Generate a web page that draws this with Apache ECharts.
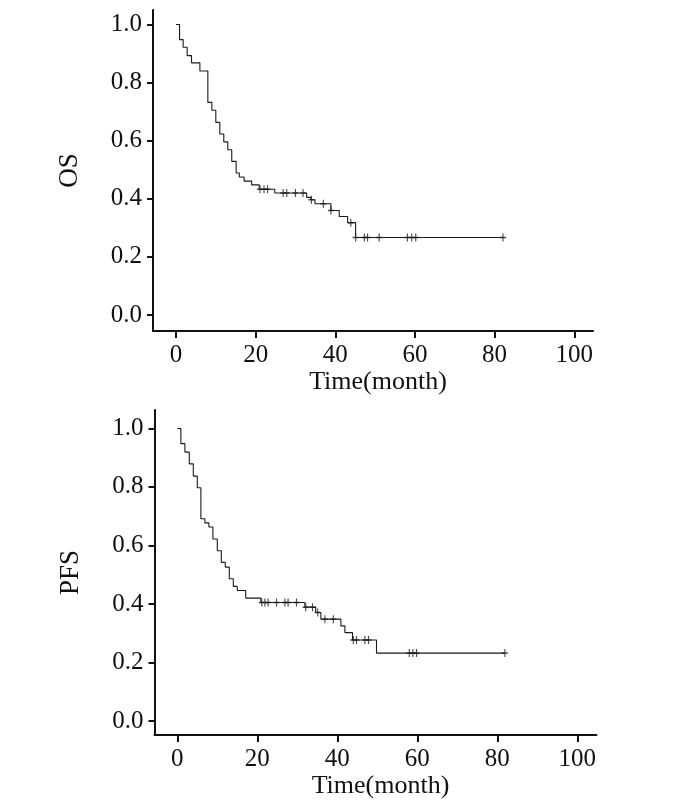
<!DOCTYPE html>
<html>
<head>
<meta charset="utf-8">
<script src="https://cdn.jsdelivr.net/npm/echarts@6/dist/echarts.min.js"></script>
<style>
  html, body { margin: 0; padding: 0; background: #fff; }
  #chart { width: 700px; height: 807px; }
</style>
</head>
<body>
<div id="chart"></div>
<script>
// ---- Data ----
const xTicks = [0, 20, 40, 60, 80, 100];
const yTicks = [0, 0.2, 0.4, 0.6, 0.8, 1.0];

// OS: step times (month) and survival after each step
const osTimes = [0, 0.9, 1.8, 2.8, 3.9, 6.0, 8.0, 9.0, 10.0, 11.0, 12.0, 13.0, 14.0, 15.1, 15.9, 17.1, 19.0, 20.9, 24.8, 32.8, 33.9, 34.9, 38.9, 41.0, 43.1, 45.1];
const osSurv  = [1.0, 0.948, 0.922, 0.893, 0.868, 0.840, 0.732, 0.705, 0.663, 0.623, 0.596, 0.569, 0.529, 0.489, 0.475, 0.461, 0.448, 0.433, 0.420, 0.405, 0.397, 0.383, 0.360, 0.339, 0.318, 0.267];
const osEnd = 82.1;
const osCensor = [21.1, 22.1, 23.0, 26.9, 27.8, 30.0, 31.9, 34.0, 37.0, 38.9, 43.9, 45.1, 47.3, 48.1, 51.0, 58.1, 59.2, 60.2, 82.1];

// PFS
const pfsTimes = [0, 0.9, 1.9, 3.0, 4.0, 5.0, 5.9, 6.9, 7.9, 8.9, 10.0, 11.0, 12.0, 13.0, 14.0, 15.0, 17.1, 20.9, 31.9, 34.6, 35.9, 40.9, 41.9, 43.8, 49.8];
const pfsSurv  = [1.0, 0.948, 0.919, 0.879, 0.837, 0.797, 0.691, 0.677, 0.663, 0.622, 0.582, 0.542, 0.526, 0.486, 0.460, 0.446, 0.420, 0.405, 0.389, 0.371, 0.348, 0.325, 0.302, 0.277, 0.232];
const pfsEnd = 81.9;
const pfsCensor = [21.1, 21.9, 22.7, 24.8, 26.9, 27.7, 29.8, 32.1, 33.8, 35.1, 36.9, 39.0, 44.0, 44.8, 46.9, 47.8, 58.0, 58.9, 59.8, 81.9];

// ---- Helpers ----
function stepData(times, surv, end) {
  const d = times.map((t, i) => [t, surv[i]]);
  d.push([end, surv[surv.length - 1]]);
  return d;
}
function survAt(times, surv, t) {
  let s = surv[0];
  for (let i = 0; i < times.length; i++) { if (times[i] <= t) s = surv[i]; }
  return s;
}
function censorData(times, surv, cens) {
  return cens.map(t => [t, survAt(times, surv, t)]);
}

const FONT = 'Liberation Serif';
const INK = '#111';
const CURVE = '#1a1a1a';

function xAxisCfg(gridIndex, min, max, padLeft) {
  return {
    type: 'value', gridIndex, min, max,
    name: 'Time(month)', nameLocation: 'middle', nameGap: 38,
    nameTextStyle: { fontFamily: FONT, fontSize: 26, color: INK, padding: [0, 0, 0, padLeft] },
    axisLine: { show: true, onZero: false, lineStyle: { color: INK, width: 2 } },
    axisTick: { show: true, length: 7, lineStyle: { color: INK, width: 2 }, customValues: xTicks },
    axisLabel: { fontFamily: FONT, fontSize: 25, color: INK, margin: 12, customValues: xTicks },
    splitLine: { show: false }
  };
}
function yAxisCfg(gridIndex, min, max, name) {
  return {
    type: 'value', gridIndex, min, max,
    name, nameLocation: 'middle', nameGap: 70, nameRotate: 90,
    nameTextStyle: { fontFamily: FONT, fontSize: 27, color: INK },
    axisLine: { show: true, onZero: false, lineStyle: { color: INK, width: 2 } },
    axisTick: { show: true, length: 6, lineStyle: { color: INK, width: 2 }, customValues: yTicks },
    axisLabel: { fontFamily: FONT, fontSize: 25, color: INK, margin: 11, customValues: yTicks,
      formatter: v => v.toFixed(1) },
    splitLine: { show: false }
  };
}

const plusSym = 'path://M5,0L5,10M0,5L10,5';

const chart = echarts.init(document.getElementById('chart'), null, { renderer: 'canvas' });
chart.setOption({
  animation: false,
  backgroundColor: '#fff',
  grid: [
    { left: 153, right: 107, top: 10, height: 321 },
    { left: 154.5, right: 103.5, top: 410, height: 325 }
  ],
  xAxis: [
    xAxisCfg(0, -5.77, 104.7, 10),
    xAxisCfg(1, -5.7, 104.8, 10)
  ],
  yAxis: [
    yAxisCfg(0, -0.055, 1.05, 'OS'),
    yAxisCfg(1, -0.048, 1.063, 'PFS')
  ],
  series: [
    { type: 'line', xAxisIndex: 0, yAxisIndex: 0, step: 'end', showSymbol: false,
      lineStyle: { color: CURVE, width: 1.1 }, data: stepData(osTimes, osSurv, osEnd) },
    { type: 'scatter', xAxisIndex: 0, yAxisIndex: 0, symbol: plusSym, symbolSize: [6, 8],
      itemStyle: { color: 'none', borderColor: CURVE, borderWidth: 1.3 },
      data: censorData(osTimes, osSurv, osCensor) },
    { type: 'line', xAxisIndex: 1, yAxisIndex: 1, step: 'end', showSymbol: false,
      lineStyle: { color: CURVE, width: 1.1 }, data: stepData(pfsTimes, pfsSurv, pfsEnd) },
    { type: 'scatter', xAxisIndex: 1, yAxisIndex: 1, symbol: plusSym, symbolSize: [6, 8],
      itemStyle: { color: 'none', borderColor: CURVE, borderWidth: 1.3 },
      data: censorData(pfsTimes, pfsSurv, pfsCensor) }
  ]
});
</script>
</body>
</html>
